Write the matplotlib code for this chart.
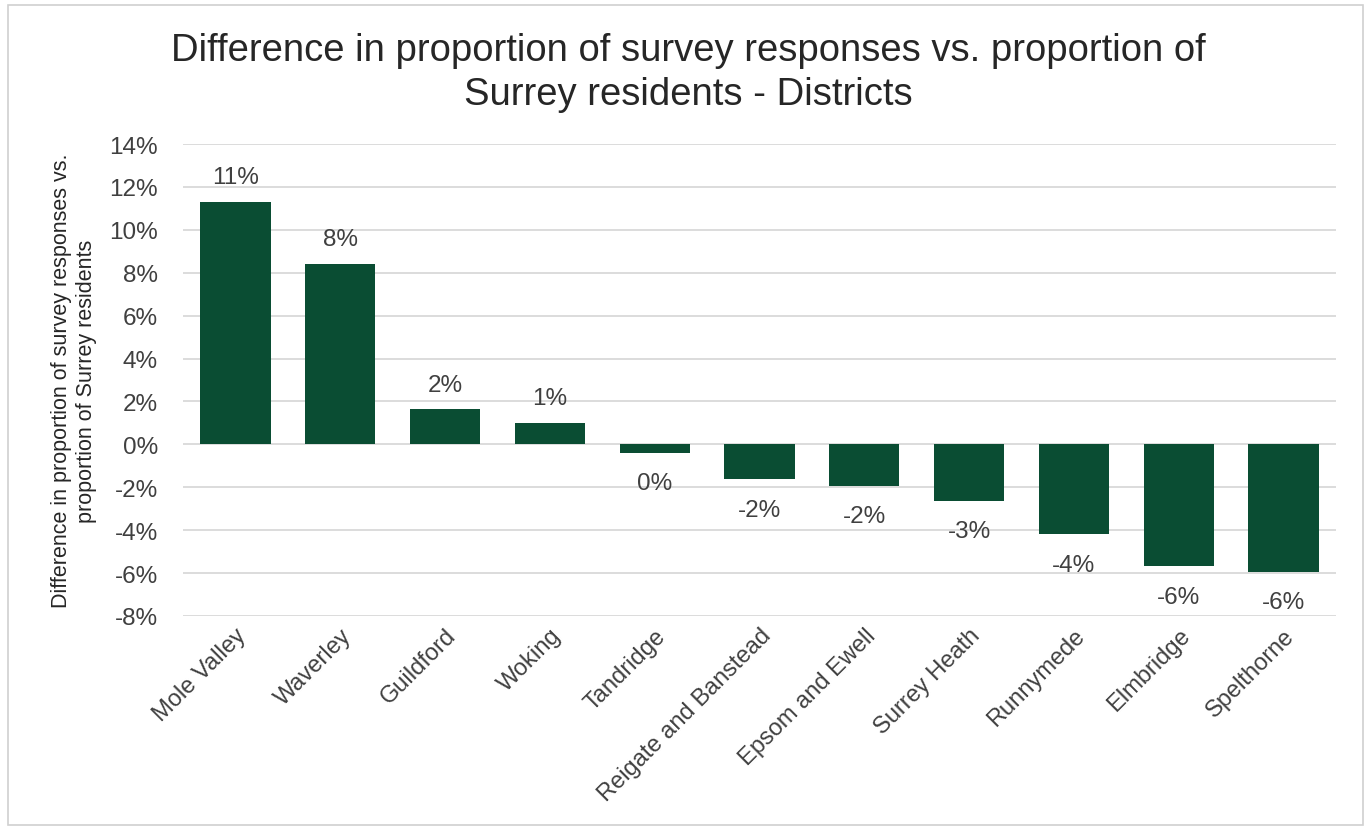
import matplotlib
matplotlib.use("Agg")
import matplotlib.pyplot as plt
from matplotlib.patches import Rectangle

plt.rcParams['font.family'] = ['Liberation Sans', 'DejaVu Sans']

districts = ["Mole Valley", "Waverley", "Guildford", "Woking", "Tandridge",
             "Reigate and Banstead", "Epsom and Ewell", "Surrey Heath",
             "Runnymede", "Elmbridge", "Spelthorne"]
difference_pct = [11.28, 8.43, 1.63, 0.98, -0.39, -1.63, -1.94, -2.64,
                  -4.20, -5.68, -5.94]
y_ticks = [-8, -6, -4, -2, 0, 2, 4, 6, 8, 10, 12, 14]

W, H = 1371, 829
fig = plt.figure(figsize=(W / 100, H / 100), dpi=100)
fig.patch.set_facecolor("white")

# light frame around the whole chart
fig.patches.append(Rectangle((8 / W, 3 / H), (W - 16) / W, (H - 9) / H,
                             transform=fig.transFigure, fill=False,
                             edgecolor="#d0d0d0", linewidth=1.2))

ax = fig.add_axes([183 / W, 1 - 617 / H, (1336 - 183) / W, (617 - 145) / H])

bar_color = "#0a4d33"
text_color = "#404040"
x = range(len(districts))
ax.bar(x, difference_pct, width=0.67, color=bar_color, zorder=3)

ax.set_ylim(-8, 14)
ax.set_xlim(-0.5, len(districts) - 0.5)
ax.set_yticks(y_ticks)
ax.set_yticklabels([f"{t}%" for t in y_ticks], fontsize=17.5, color=text_color)
ax.yaxis.grid(True, color="#d9d9d9", linewidth=1.3, zorder=0)
ax.set_axisbelow(True)
ax.tick_params(axis="both", length=0)
ax.tick_params(axis="y", pad=18)
for s in ax.spines.values():
    s.set_visible(False)

ax.set_xticks(list(x))
ax.set_xticklabels(districts, rotation=45, ha="right", va="top",
                   rotation_mode="anchor", fontsize=17, color=text_color)
ax.tick_params(axis="x", pad=6)

for xi, v in zip(x, difference_pct):
    label = f"{int(round(v))}%"
    if v >= 0:
        ax.annotate(label, (xi, v), xytext=(0, 10), textcoords="offset points",
                    ha="center", va="bottom", fontsize=17.5, color=text_color)
    else:
        ax.annotate(label, (xi, v), xytext=(0, -14), textcoords="offset points",
                    ha="center", va="top", fontsize=17.5, color=text_color)

fig.text(688 / W, 1 - 73 / H,
         "Difference in proportion of survey responses vs. proportion of\nSurrey residents - Districts",
         ha="center", va="center", fontsize=27.5, color="#262626", linespacing=1.3)

fig.text(74 / W, 1 - 381 / H,
         "Difference in proportion of survey responses vs.\nproportion of Surrey residents",
         rotation=90, ha="center", va="center", fontsize=15.5, color="#262626",
         linespacing=1.3, multialignment="center")

fig.savefig("out.png", dpi=100, facecolor="white")
